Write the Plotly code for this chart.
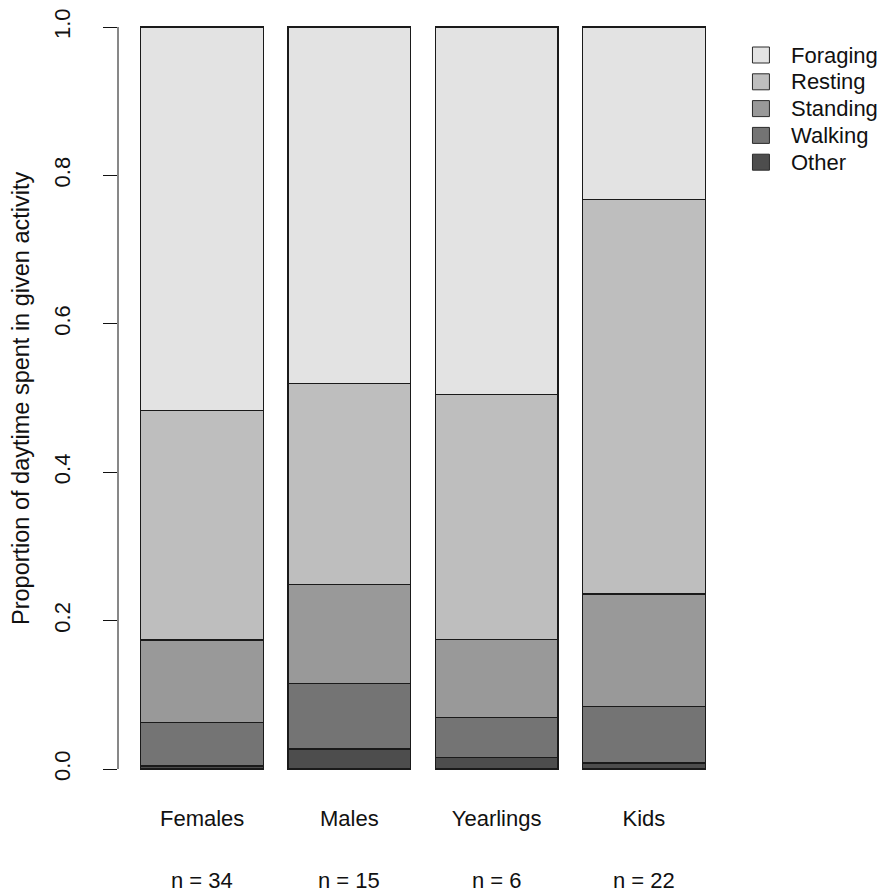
import plotly.graph_objects as go

groups = ["Females", "Males", "Yearlings", "Kids"]
sample_sizes = ["n = 34", "n = 15", "n = 6", "n = 22"]

# proportions of daytime (bottom to top of each stacked bar)
other = [0.004, 0.027, 0.016, 0.008]
walking = [0.059, 0.088, 0.053, 0.076]
standing = [0.111, 0.134, 0.106, 0.152]
resting = [0.309, 0.271, 0.330, 0.531]
foraging = [0.517, 0.480, 0.495, 0.233]

series = [
    ("Other", other, "#4d4d4d"),
    ("Walking", walking, "#747474"),
    ("Standing", standing, "#999999"),
    ("Resting", resting, "#bebebe"),
    ("Foraging", foraging, "#e3e3e3"),
]

FONT = "Liberation Sans, Arial, Helvetica, sans-serif"
FS = 22

# figure geometry (the page adds an 8px body margin)
W, H = 878, 887
ML, MR, MT, MB = 109.5, 157.5, 0, 96
PW, PH = W - ML - MR, H - MT - MB

fig = go.Figure()
for name, vals, col in series:
    fig.add_trace(go.Bar(
        x=groups, y=vals, name=name, showlegend=False,
        marker=dict(color=col, line=dict(color="#1a1a1a", width=1.2)),
    ))

fig.update_layout(
    barmode="stack",
    bargap=1 - 1 / 1.2,
    width=W, height=H,
    margin=dict(l=ML, r=MR, t=MT, b=MB),
    paper_bgcolor="white", plot_bgcolor="white",
    font=dict(family=FONT, size=FS, color="#111111"),
    xaxis=dict(
        range=[-0.5714, 3.5714], showline=False, showgrid=False,
        zeroline=False, ticks="", ticklabelstandoff=4,
    ),
    yaxis=dict(
        range=[-0.0404, 1.0256], showline=False, showgrid=False, zeroline=False,
        tickvals=[0, 0.2, 0.4, 0.6, 0.8, 1.0],
        ticktext=["0.0", "0.2", "0.4", "0.6", "0.8", "1.0"],
        ticks="outside", ticklen=14, tickwidth=1, tickcolor="#111111",
        tickangle=-90, ticklabelstandoff=24,
    ),
)

# y axis line spanning 0..1 like base R
fig.add_shape(type="line", xref="paper", yref="y", x0=0, x1=0, y0=0, y1=1,
              line=dict(color="#111111", width=1))

# y axis title
fig.add_annotation(
    text="Proportion of daytime spent in given activity",
    xref="paper", yref="y", x=0, y=0.5, xanchor="center", yanchor="middle",
    xshift=-97, textangle=-90, showarrow=False, font=dict(size=23.5),
)

# sample size labels under each group
for g, n in zip(groups, sample_sizes):
    fig.add_annotation(text=n, x=g, xref="x", yref="paper", y=0,
                       yanchor="middle", yshift=-81, showarrow=False,
                       font=dict(size=FS))

# legend in base-R style (top item = Foraging)
def px_x(px):
    return (px - ML) / PW

def px_y(py):
    return 1 - (py - MT) / PH

for i, (name, vals, col) in enumerate(reversed(series)):
    cy = 47 + 26.8 * i
    fig.add_shape(type="rect", xref="paper", yref="paper",
                  x0=px_x(745), x1=px_x(762), y0=px_y(cy - 8), y1=px_y(cy + 8),
                  fillcolor=col, line=dict(color="#2a2a2a", width=1))
    fig.add_annotation(text=name, xref="paper", yref="paper",
                       x=px_x(782), y=px_y(cy), xanchor="left", yanchor="middle",
                       showarrow=False, font=dict(size=FS))

fig.write_html("out.html")
